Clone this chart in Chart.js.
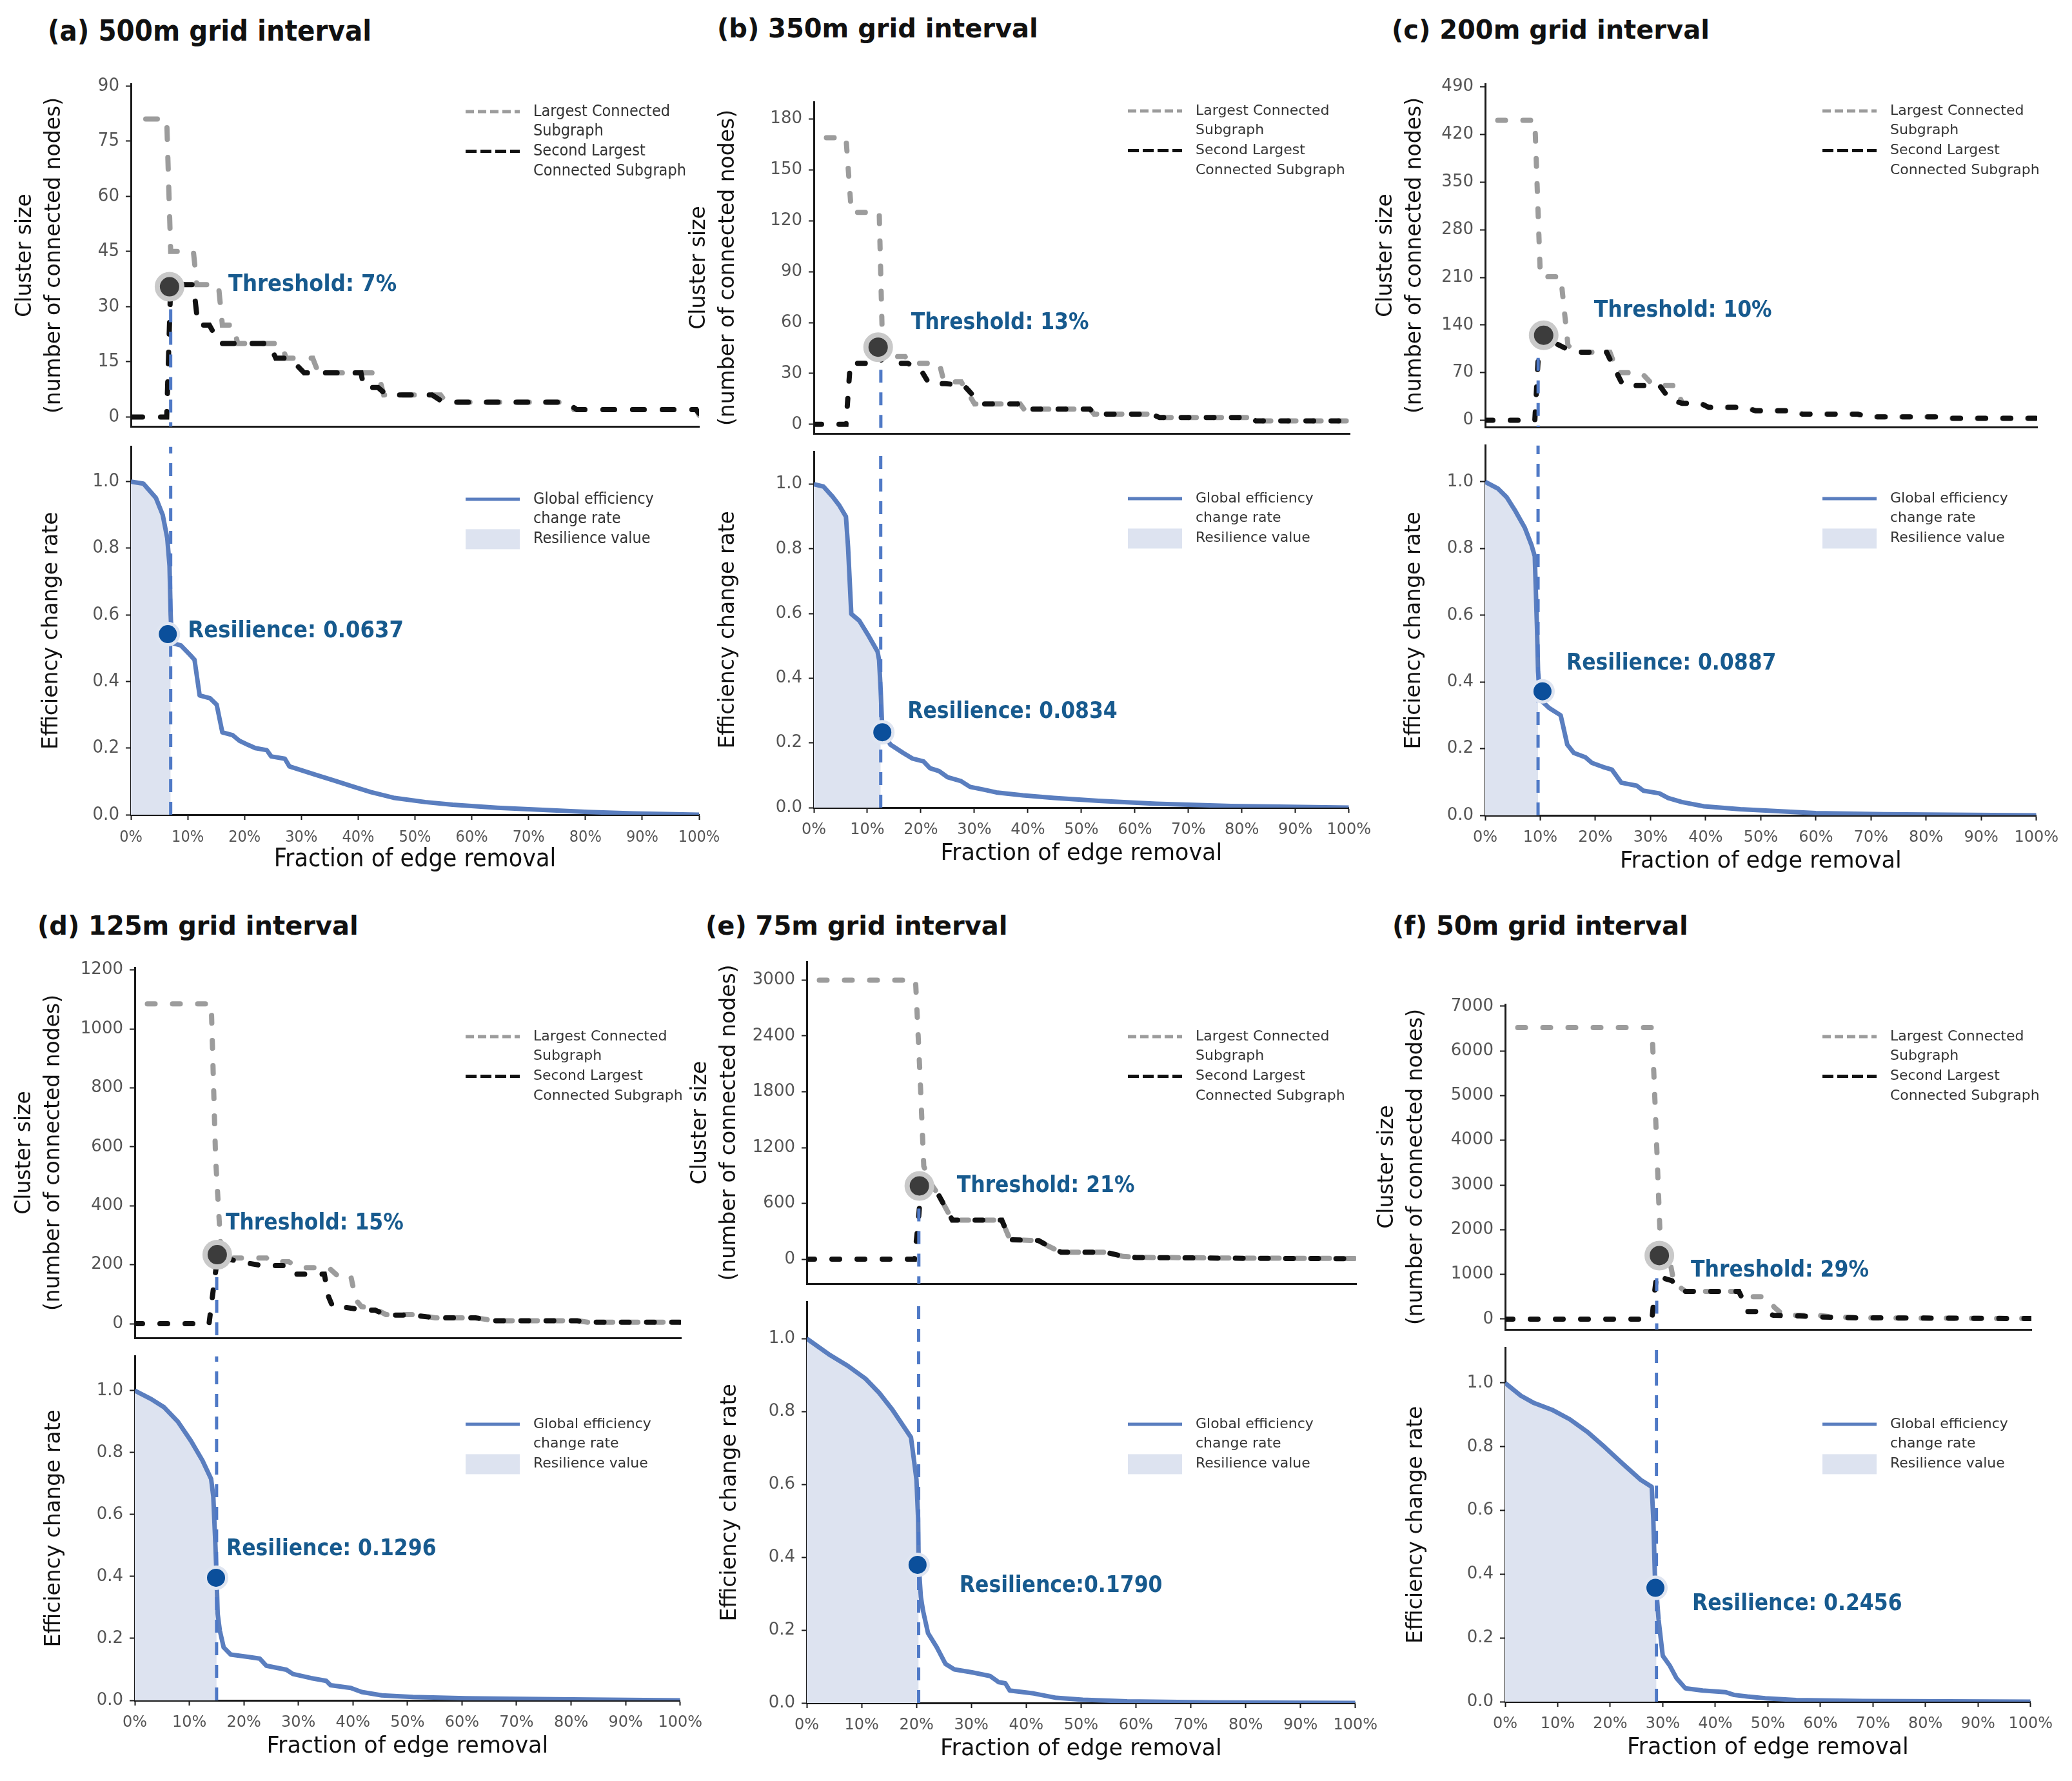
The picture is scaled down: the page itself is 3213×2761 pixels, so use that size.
<!DOCTYPE html>
<html>
<head>
<meta charset="utf-8">
<script src="https://cdn.jsdelivr.net/npm/chart.js@4.4.1/dist/chart.umd.min.js"></script>
<style>
  html, body { margin: 0; padding: 0; background: #fff; }
  #page { position: relative; width: 3213px; height: 2761px; overflow: hidden; background: #fff; }
  #page canvas { position: absolute; }
  .ptitle { position: absolute; white-space: nowrap; color: #111; font-weight: bold;
            line-height: 1; transform: translateY(-50%); }
</style>
</head>
<body>
<div id="page"></div>
<script>
// ---------- data ----------
const panelTitles = ['(a) 500m grid interval', '(b) 350m grid interval', '(c) 200m grid interval',
                     '(d) 125m grid interval', '(e) 75m grid interval', '(f) 50m grid interval'];
const thrLabels = ['Threshold: 7%', 'Threshold: 13%', 'Threshold: 10%', 'Threshold: 15%', 'Threshold: 21%', 'Threshold: 29%'];
const resLabels = ['Resilience: 0.0637', 'Resilience: 0.0834', 'Resilience: 0.0887', 'Resilience: 0.1296', 'Resilience:0.1790', 'Resilience: 0.2456'];
const thresholds = [7.0, 12.5, 9.6, 15.0, 20.4, 28.8];
const thrDots = [[6.8, 35.4], [12.0, 45.5], [10.6, 125], [15.1, 234], [20.5, 788], [29.3, 1422]];
const resDots = [[6.5, 0.542], [12.8, 0.233], [10.4, 0.372], [14.9, 0.396], [20.2, 0.379], [28.6, 0.357]];

const pctTicks = [0, 10, 20, 30, 40, 50, 60, 70, 80, 90, 100];
const effTicks = [0, 0.2, 0.4, 0.6, 0.8, 1.0];
const sizeTicksA = [0, 15, 30, 45, 60, 75, 90];
const sizeTicksB = [0, 30, 60, 90, 120, 150, 180];
const sizeTicksC = [0, 70, 140, 210, 280, 350, 420, 490];
const sizeTicksD = [0, 200, 400, 600, 800, 1000, 1200];
const sizeTicksE = [0, 600, 1200, 1800, 2400, 3000];
const sizeTicksF = [0, 1000, 2000, 3000, 4000, 5000, 6000, 7000];

const legendTop = [['Largest Connected', 'Subgraph'], ['Second Largest', 'Connected Subgraph']];
const legendBot = [['Global efficiency', 'change rate'], ['Resilience value']];

// largest / second largest connected subgraph, [fraction %, nodes]
const lcsA = [[0,81],[6.3,81],[7.0,45],[11,45],[11.6,36],[15.4,36],[16.1,25],[18,25],[18.8,20],[26.5,20],[27.3,16],[32,16],[33,12],[43.5,12],[44.5,6],[54.5,6],[55.5,4],[77,4],[78,2],[99.5,2],[100,0.5]];
const slcsA = [[0,0],[6.3,0],[7.0,36],[11,36],[11.8,25],[13.8,25],[15.6,20],[24.3,20],[25.5,16],[28,16],[30.5,12],[40.5,12],[41,8],[43.5,8],[45,6],[53,6],[55,4],[76.5,4],[78.5,2],[99.5,2],[100,1]];
const lcsB = [[0,169],[6,169],[7,125],[12.2,125],[12.8,48],[14,40],[17,40],[18,36],[23.4,36],[24.3,25],[27.5,25],[30,12],[38.5,12],[39.2,9],[51.5,9],[52.3,6],[64,6],[65,4],[82,4],[83,2],[100,2]];
const slcsB = [[0,0],[6,0],[6.8,36],[12,36],[13.5,41],[15.5,36],[17.5,36],[20,32],[21.5,24],[24.5,24],[28,23],[30,16],[31.5,12],[38,12],[39,9],[51.5,9],[52.5,6],[63,6],[64.5,4],[81.5,4],[82.5,2],[100,2]];
const lcsC = [[0,441],[9,441],[10,211],[13.7,211],[15,110],[16.5,100],[22.6,100],[24,70],[28.3,70],[30.5,51],[34.5,51],[35.7,25],[39,25],[40.5,19],[47,19],[49,14],[56,14],[57.5,9],[67.5,9],[69.5,5],[82,5],[84,3],[100,3]];
const slcsC = [[0,0],[9,0],[9.8,120],[11.5,118],[14.5,106],[17,100],[22,100],[23.5,75],[25,51],[31.6,51],[33.5,30],[35.7,25],[39,25],[40.5,19],[47,19],[49,14],[56,14],[57.5,9],[67.5,9],[69.5,5],[82,5],[84,3],[100,3]];
const lcsD = [[0,1085],[14,1085],[14.8,560],[15.8,240],[17.6,223],[24.1,223],[25,210],[28.2,210],[30,190],[35.5,190],[37,165],[39.5,165],[40.5,80],[41.5,58],[44,50],[46,31],[51,31],[55,20],[62.4,20],[66,10],[81,10],[83,5],[100,5]];
const slcsD = [[0,0],[13.6,0],[14.6,150],[15.2,230],[17,220],[19.3,210],[23.3,197],[27.4,197],[29,168],[34.7,168],[35.5,90],[36.3,55],[38.8,55],[42,46],[44,46],[46,29],[51,29],[55,20],[62.4,20],[66,10],[81,10],[83,5],[100,5]];
const lcsE = [[0,3000],[19.8,3000],[20.6,2000],[21.3,1000],[22.5,820],[24,690],[26.5,420],[35.5,420],[37,210],[42.2,200],[44,140],[46.3,75],[54.4,75],[57.6,30],[60,20],[80,12],[100,8]];
const slcsE = [[0,0],[19.6,0],[20.3,400],[20.8,780],[22,760],[24,690],[26.5,420],[35.5,420],[37,210],[42.2,200],[44,140],[46.3,75],[54.4,75],[57.6,30],[60,18],[80,10],[100,6]];
const lcsF = [[0,6520],[27.9,6520],[28.6,4500],[29.4,2000],[30.2,1400],[31.3,1300],[32.1,800],[34.3,620],[45.3,620],[46.1,500],[49.5,500],[51.2,260],[52.9,84],[59.6,84],[62,50],[70,25],[100,12]];
const slcsF = [[0,0],[27.9,0],[28.4,600],[28.8,1000],[30.5,900],[31.7,860],[32.5,720],[34.3,620],[44.4,620],[45.3,400],[46.1,167],[48.6,167],[51,84],[56,70],[59.6,48],[65,30],[100,12]];

// global efficiency change rate, [fraction %, rate]
const effA = [[0,1.0],[2.2,0.994],[4.4,0.951],[5.6,0.90],[6.4,0.83],[6.8,0.747],[7.0,0.60],[7.2,0.516],[8.8,0.508],[10.4,0.48],[11.2,0.465],[12.1,0.358],[13.9,0.35],[15.1,0.33],[16.1,0.247],[17.9,0.239],[19.1,0.222],[20.7,0.209],[21.9,0.2],[23.9,0.194],[24.7,0.175],[27.1,0.168],[27.9,0.145],[30.3,0.132],[32.7,0.119],[35.9,0.102],[39,0.085],[42.2,0.068],[46.2,0.051],[51.8,0.038],[56.6,0.030],[64.5,0.021],[72.5,0.0145],[80.5,0.008],[88.4,0.004],[100,0]];
const effB = [[0,1.0],[1.8,0.993],[3.5,0.962],[4.7,0.936],[6,0.90],[6.4,0.805],[7,0.599],[8.5,0.578],[10.1,0.535],[11.9,0.483],[12.2,0.456],[12.5,0.36],[12.8,0.239],[14.3,0.195],[16.7,0.169],[18.4,0.152],[20.5,0.143],[21.7,0.122],[23.4,0.113],[25,0.094],[27.5,0.082],[29.2,0.064],[31.6,0.056],[34.1,0.047],[39.1,0.038],[44.9,0.030],[53.2,0.021],[64,0.012],[78,0.005],[100,0]];
const effC = [[0,1.0],[2.3,0.98],[3.9,0.954],[5.5,0.912],[7.2,0.862],[8.4,0.811],[9,0.777],[9.4,0.567],[9.6,0.432],[10,0.347],[11.6,0.322],[13.7,0.3],[14.9,0.212],[16.1,0.187],[18.2,0.174],[19.4,0.157],[21.4,0.145],[23,0.137],[24.7,0.098],[27.5,0.089],[28.7,0.074],[31.6,0.066],[33.2,0.052],[35.7,0.04],[39.7,0.027],[46.3,0.0185],[52,0.0135],[60,0.0067],[72.3,0.0034],[100,0]];
const effD = [[0,1.0],[3,0.973],[5.4,0.946],[7.9,0.9],[10.3,0.838],[12.4,0.775],[14,0.715],[14.4,0.658],[14.8,0.495],[15,0.396],[15.2,0.279],[15.6,0.225],[16.3,0.171],[17.6,0.148],[20.9,0.14],[22.9,0.135],[24.1,0.112],[27.8,0.099],[29,0.085],[32.3,0.072],[35.1,0.063],[35.9,0.049],[39.6,0.04],[41.6,0.027],[45.3,0.016],[51,0.011],[60.7,0.007],[77,0.0036],[100,0]];
const effE = [[0,1.0],[4.3,0.954],[7.5,0.925],[10.7,0.89],[13.2,0.851],[15.6,0.805],[19,0.729],[19.6,0.66],[20,0.613],[20.3,0.506],[20.4,0.383],[20.8,0.291],[21.2,0.253],[22.1,0.192],[23.7,0.153],[25.3,0.107],[26.9,0.092],[30.1,0.084],[33.4,0.074],[35,0.057],[36.2,0.054],[37,0.034],[41.4,0.026],[45.5,0.014],[50.3,0.009],[58.4,0.0046],[74.6,0.0015],[100,0]];
const effF = [[0,1.0],[3,0.96],[5.5,0.937],[8.9,0.916],[12.3,0.886],[15.7,0.846],[19,0.798],[22.4,0.746],[25.8,0.696],[27.9,0.674],[28.2,0.574],[28.5,0.398],[28.8,0.346],[29.2,0.258],[30,0.144],[31.3,0.114],[32.6,0.074],[34.3,0.042],[37.6,0.035],[41.9,0.03],[43.6,0.021],[46.1,0.016],[49.5,0.0105],[55.4,0.0053],[68.1,0.0018],[100,0]];

const lcs = [lcsA, lcsB, lcsC, lcsD, lcsE, lcsF];
const slcs = [slcsA, slcsB, slcsC, slcsD, slcsE, slcsF];
const eff = [effA, effB, effC, effD, effE, effF];
const sizeTicks = [sizeTicksA, sizeTicksB, sizeTicksC, sizeTicksD, sizeTicksE, sizeTicksF];

// ---------- page layout (pixels) ----------
// l/r: plot edges, tT/tB: top plot, bT/bB: bottom plot, w*: y-axis box widths
const layout = [
  {l: 203,  r: 1084, tT: 123,  tB: 683,  bT: 685,  bB: 1263, yMin: -2.66,  yMax: 90.5, bMax: 1.105, wTop: 186, wBot: 145, legX: 722,  legTop: 173,  legBot: 774,  thrOff: [91, -3],  resOff: [31, -4],  title: [74, 47],     narrow: true},
  {l: 1262, r: 2093, tT: 151,  tB: 693,  bT: 695,  bB: 1252, yMin: -5.4,   yMax: 190.1, bMax: 1.10, wTop: 200, wBot: 155, legX: 1749, legTop: 172,  legBot: 773,  thrOff: [51, -37], resOff: [39, -31], title: [1112, 44]},
  {l: 2303, r: 3159, tT: 123,  tB: 683,  bT: 685,  bB: 1264, yMin: -9.9,   yMax: 494.5, bMax: 1.109, wTop: 176, wBot: 132, legX: 2826, legTop: 172, legBot: 773,  thrOff: [78, -38], resOff: [37, -43], title: [2158, 46]},
  {l: 209,  r: 1056, tT: 1493, tB: 2095, bT: 2097, bB: 2636, yMin: -48,    yMax: 1208, bMax: 1.111, wTop: 193, wBot: 147, legX: 722,  legTop: 1607, legBot: 2208, thrOff: [13, -48], resOff: [16, -44], title: [58, 1435]},
  {l: 1251, r: 2103, tT: 1484, tB: 2011, bT: 2013, bB: 2640, yMin: -262.6, yMax: 3197, bMax: 1.10,  wTop: 187, wBot: 141, legX: 1749, legTop: 1607, legBot: 2208, thrOff: [58, 0],   resOff: [65, 33],  title: [1094, 1435]},
  {l: 2334, r: 3150, tT: 1550, tB: 2082, bT: 2084, bB: 2638, yMin: -232,   yMax: 7041, bMax: 1.11,  wTop: 205, wBot: 160, legX: 2826, legTop: 1607, legBot: 2208, thrOff: [49, 24],  resOff: [57, 25],  title: [2159, 1435]}
];

const FAM = "'DejaVu Sans', Verdana, sans-serif";
const FAM_N = "'DejaVu Sans Condensed', 'Liberation Sans Narrow', 'DejaVu Sans', sans-serif";
const ANN_COLOR = '#175a8e';
const AXIS = '#1a1a1a';
const PAD_T = 20;

function fonts(i) {
  if (layout[i].narrow) return {fam: FAM_N, tick: 29, xtick: 25, leg: 25, ann: 36, xt: 39, title: 45};
  return {fam: FAM, tick: 26, xtick: 24, leg: 22, ann: 35, xt: 35, title: 40};
}

const page = document.getElementById('page');
Chart.defaults.font.family = FAM;

function addCanvas(left, top, w, h) {
  const c = document.createElement('canvas');
  c.width = Math.round(w); c.height = Math.round(h);
  c.style.left = Math.round(left) + 'px';
  c.style.top = Math.round(top) + 'px';
  page.appendChild(c);
  return c;
}

const pts = arr => arr.map(p => ({x: p[0], y: p[1]}));

function yAxis(i, isTop) {
  const L = layout[i], f = fonts(i);
  const ticks = isTop ? sizeTicks[i] : effTicks;
  return {
    type: 'linear',
    min: isTop ? L.yMin : 0,
    max: isTop ? L.yMax : L.bMax,
    afterBuildTicks: s => { s.ticks = ticks.map(v => ({value: v})); },
    afterFit: s => { s.width = isTop ? L.wTop : L.wBot; },
    ticks: {color: '#555', padding: 10, autoSkip: false, font: {family: f.fam, size: f.tick},
            callback: v => isTop ? String(v) : v.toFixed(1)},
    grid: {display: true, drawOnChartArea: false, drawTicks: true, tickLength: 8, tickColor: AXIS, tickWidth: 2},
    border: {display: true, color: AXIS, width: 3},
    title: {display: true, color: '#111', padding: 0,
            text: isTop ? ['Cluster size', '(number of connected nodes)'] : 'Efficiency change rate',
            font: {family: FAM, size: 33, lineHeight: 45 / 33}}
  };
}

function xAxis(i, isTop) {
  const f = fonts(i);
  const ax = {
    type: 'linear', min: 0, max: 100,
    afterBuildTicks: s => { s.ticks = pctTicks.map(v => ({value: v})); },
    border: {display: true, color: AXIS, width: 3}
  };
  if (isTop) {
    ax.afterFit = s => { s.height = 0; };
    ax.ticks = {display: false};
    ax.grid = {display: true, drawOnChartArea: false, drawTicks: false};
  } else {
    ax.afterFit = s => { s.height = 93; };
    ax.ticks = {display: true, color: '#555', padding: 12, autoSkip: false, maxRotation: 0,
                font: {family: f.fam, size: f.xtick}, callback: v => v + '%'};
    ax.grid = {display: true, drawOnChartArea: false, drawTicks: true, tickLength: 8, tickColor: AXIS, tickWidth: 2};
    ax.title = {display: true, text: 'Fraction of edge removal', color: '#111', padding: {top: 0, bottom: 0},
                font: {family: f.fam, size: f.xt, lineHeight: 1.2}};
  }
  return ax;
}

// annotation text + legend, drawn over the datasets
function decor(i, isTop, cvLeft, cvTop) {
  const L = layout[i], f = fonts(i);
  return {
    id: 'decor',
    afterDatasetsDraw(chart) {
      const ctx = chart.ctx, xs = chart.scales.x, ys = chart.scales.y;
      const dot = isTop ? thrDots[i] : resDots[i];
      const off = isTop ? L.thrOff : L.resOff;
      ctx.save();
      ctx.font = `bold ${f.ann}px ${FAM_N}`;
      ctx.fillStyle = ANN_COLOR;
      ctx.textAlign = 'left';
      ctx.textBaseline = 'middle';
      ctx.fillText(isTop ? thrLabels[i] : resLabels[i],
                   xs.getPixelForValue(dot[0]) + off[0], ys.getPixelForValue(dot[1]) + off[1]);

      // legend
      const lx = L.legX - cvLeft;
      let ly = (isTop ? L.legTop : L.legBot) - cvTop;
      const step = 30.7;
      const ds = chart.data.datasets;
      const items = isTop
        ? [{ds: ds.find(d => d.role === 'lcs'), lines: legendTop[0], dash: [13, 6]},
           {ds: ds.find(d => d.role === 'slcs'), lines: legendTop[1], dash: [17, 6]}]
        : [{ds: ds.find(d => d.role === 'eff'), lines: legendBot[0], dash: []},
           {ds: ds.find(d => d.role === 'fill'), lines: legendBot[1], box: true}];
      ctx.font = `${f.leg}px ${f.fam}`;
      items.forEach(it => {
        if (it.box) {
          ctx.fillStyle = it.ds.backgroundColor;
          ctx.fillRect(lx, ly - 15, 84, 31);
        } else {
          ctx.beginPath();
          ctx.setLineDash(it.dash);
          ctx.lineWidth = 5;
          ctx.strokeStyle = it.ds.borderColor;
          ctx.moveTo(lx, ly); ctx.lineTo(lx + 84, ly);
          ctx.stroke();
          ctx.setLineDash([]);
        }
        ctx.fillStyle = '#333';
        it.lines.forEach(t => { ctx.fillText(t, lx + 105, ly); ly += step; });
      });
      ctx.restore();
    }
  };
}

function baseOptions(i, isTop) {
  return {
    responsive: false, animation: false, events: [], devicePixelRatio: 1,
    layout: {padding: isTop ? {top: PAD_T, right: 30, bottom: 6, left: 0} : {top: PAD_T, right: 45, bottom: 0, left: 0}},
    plugins: {legend: {display: false}, tooltip: {enabled: false}},
    scales: {x: xAxis(i, isTop), y: yAxis(i, isTop)}
  };
}

function topChart(i) {
  const L = layout[i];
  const left = L.l - L.wTop, top = L.tT - PAD_T;
  const cv = addCanvas(left, top, L.wTop + (L.r - L.l) + 30, (L.tB - L.tT) + PAD_T + 6);
  const dash = L.narrow ? [18, 28] : [12, 27];
  const half = (dash[0] + dash[1]) / 2;
  new Chart(cv, {
    type: 'line',
    data: {datasets: [
      {role: 'dot', data: pts([thrDots[i]]), showLine: false, pointRadius: 19, pointBorderWidth: 8,
       pointBackgroundColor: '#3c3c3c', pointBorderColor: '#c9c9c9', order: 0},
      {role: 'vline', data: pts([[thresholds[i], thrDots[i][1]], [thresholds[i], L.yMin]]),
       borderColor: '#4f79c6', borderWidth: 5, borderDash: [20, 15], pointRadius: 0, order: 1},
      {role: 'slcs', label: 'Second Largest Connected Subgraph', data: pts(slcs[i]), borderColor: '#111',
       borderWidth: 8, borderDash: dash, borderCapStyle: 'round', pointRadius: 0, tension: 0, order: 2},
      {role: 'lcs', label: 'Largest Connected Subgraph', data: pts(lcs[i]), borderColor: '#9c9c9c',
       borderWidth: 8, borderDash: dash, borderDashOffset: half, borderCapStyle: 'round',
       pointRadius: 0, tension: 0, order: 3}
    ]},
    options: baseOptions(i, true),
    plugins: [decor(i, true, left, top)]
  });
}

function bottomChart(i) {
  const L = layout[i];
  const left = L.l - L.wBot, top = L.bT - PAD_T;
  const cv = addCanvas(left, top, L.wBot + (L.r - L.l) + 45, (L.bB - L.bT) + PAD_T + 93);
  new Chart(cv, {
    type: 'line',
    data: {datasets: [
      {role: 'dot', data: pts([resDots[i]]), showLine: false, pointRadius: 16.5, pointBorderWidth: 5,
       pointBackgroundColor: '#0b4f9b', pointBorderColor: '#dfe5f1', order: 0},
      {role: 'vline', data: pts([[thresholds[i], 0], [thresholds[i], L.bMax]]),
       borderColor: '#4f79c6', borderWidth: 5, borderDash: [20, 15], pointRadius: 0, order: 1},
      {role: 'eff', label: 'Global efficiency change rate', data: pts(eff[i]), borderColor: '#5a7ebf',
       borderWidth: 7, borderJoinStyle: 'round', pointRadius: 0, tension: 0, order: 2},
      {role: 'fill', label: 'Resilience value', data: pts(eff[i].filter(p => p[0] <= thresholds[i] + 1e-9)),
       borderWidth: 0, borderColor: 'rgba(0,0,0,0)', backgroundColor: '#dde3f0', fill: 'origin',
       pointRadius: 0, tension: 0, order: 3}
    ]},
    options: baseOptions(i, false),
    plugins: [decor(i, false, left, top)]
  });
}

panelTitles.forEach((t, i) => {
  const L = layout[i], f = fonts(i);
  const d = document.createElement('div');
  d.className = 'ptitle';
  d.textContent = t;
  d.style.left = L.title[0] + 'px';
  d.style.top = L.title[1] + 'px';
  d.style.fontFamily = f.fam;
  d.style.fontSize = f.title + 'px';
  page.appendChild(d);
  topChart(i);
  bottomChart(i);
});
</script>
</body>
</html>
